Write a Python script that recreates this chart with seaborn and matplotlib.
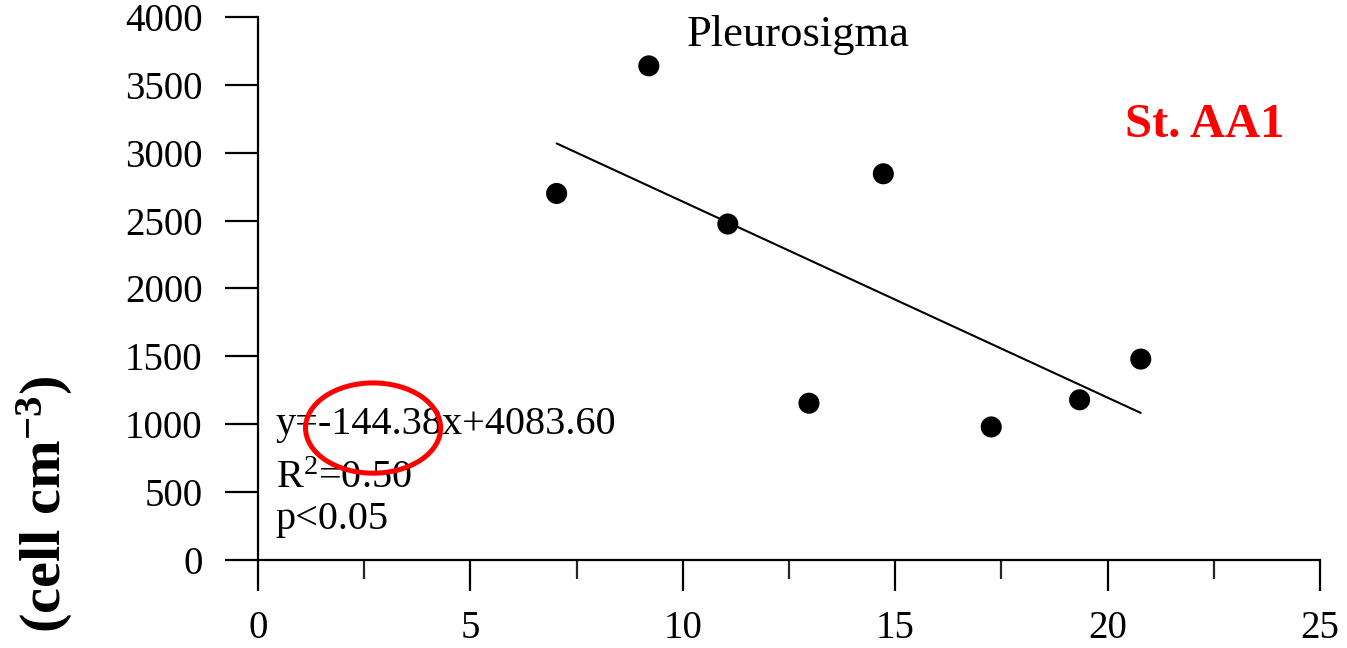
import matplotlib
matplotlib.use("Agg")
import matplotlib.pyplot as plt
from matplotlib.patches import Ellipse
from matplotlib.ticker import MultipleLocator
import numpy as np
import pandas as pd
import seaborn as sns

# Pleurosigma abundance vs. temperature at station AA1
temperature = [7.03, 9.2, 11.06, 12.97, 14.72, 17.26, 19.34, 20.78]
cell_density = [2700, 3640, 2475, 1155, 2845, 980, 1180, 1480]

slope = -144.38
intercept = 4083.60
r_squared = 0.50

x_ticks = [0, 5, 10, 15, 20, 25]
y_ticks = [0, 500, 1000, 1500, 2000, 2500, 3000, 3500, 4000]

sns.set_style("ticks")
plt.rcParams["font.family"] = ["Liberation Serif", "DejaVu Serif"]
plt.rcParams["text.color"] = "black"
plt.rcParams["mathtext.fontset"] = "custom"
plt.rcParams["mathtext.rm"] = "Liberation Serif"
plt.rcParams["mathtext.it"] = "Liberation Serif:italic"
plt.rcParams["mathtext.bf"] = "Liberation Serif:bold"
plt.rcParams["mathtext.default"] = "regular"

df = pd.DataFrame({"temperature": temperature, "cells": cell_density})

fig = plt.figure(figsize=(13.47, 6.48), dpi=100)
ax = fig.add_axes([0.1915, 0.1358, 0.7885, 0.838])

sns.scatterplot(data=df, x="temperature", y="cells", ax=ax, color="black",
                s=230, edgecolor="none", zorder=3)

fit_x = np.array([min(temperature), max(temperature)])
fit_df = pd.DataFrame({"x": fit_x, "y": slope * fit_x + intercept})
sns.lineplot(data=fit_df, x="x", y="y", ax=ax, color="black", linewidth=1.5)

ax.set_xlim(0, 25)
ax.set_ylim(0, 4000)
ax.set_xticks(x_ticks)
ax.set_yticks(y_ticks)
ax.xaxis.set_minor_locator(MultipleLocator(2.5))
ax.set_xlabel("")
ax.set_ylabel("")

for side in ["top", "right"]:
    ax.spines[side].set_visible(False)
for side in ["left", "bottom"]:
    ax.spines[side].set_linewidth(1.6)
    ax.spines[side].set_color("black")

ax.tick_params(axis="x", which="major", length=22, width=1.6, pad=14,
               labelsize=28, colors="black")
ax.tick_params(axis="x", which="minor", length=14, width=1.6)
ax.tick_params(axis="y", which="major", length=24, width=1.6, pad=16,
               labelsize=28, colors="black")

ax.text(12.71, 3870, "Pleurosigma", ha="center", va="center", fontsize=32)

ax.text(0.42, 995, f"y={slope:.2f}x+{intercept:.2f}", ha="left", va="center",
        fontsize=29)
ax.text(0.42, 604, f"R$^{{2}}$={r_squared:.2f}", ha="left", va="center",
        fontsize=29)
ax.text(0.42, 295, "p<0.05", ha="left", va="center", fontsize=29)

ax.add_patch(Ellipse((2.71, 972), width=3.18, height=665, fill=False,
                     edgecolor="red", linewidth=3.6, zorder=4))

fig.text(0.894, 0.807, "St. AA1", color="red", fontweight="bold",
         fontsize=35, ha="center", va="center")
fig.text(0.033, 0.222, r"(cell cm$^{\mathbf{-3}}$)", fontweight="bold",
         fontsize=42, rotation=90, ha="center", va="center", color="black")

fig.savefig("out.png", dpi=100)
